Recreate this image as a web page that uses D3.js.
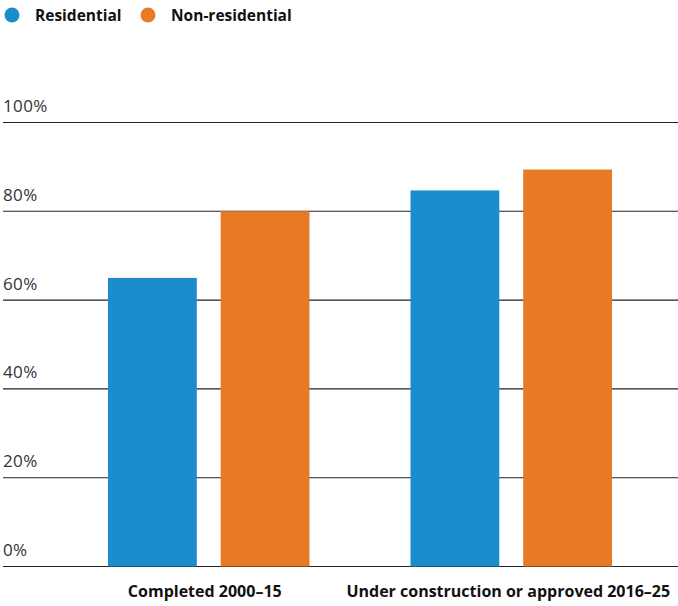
<!DOCTYPE html>
<html><head><meta charset="utf-8">
<script src="https://cdn.jsdelivr.net/npm/d3@7"></script>
<style>body{margin:0;background:#fff;}svg{display:block;font-family:"Open Sans",sans-serif;}</style>
</head><body>
<svg id="c" width="678" height="606"></svg>
<script>
const categories = ["Completed 2000\u201315", "Under construction or approved 2016\u201325"];
const seriesNames = ["Residential", "Non-residential"];
const residential = [65, 84.7];
const nonResidential = [80, 89.4];
const yTicks = [0, 20, 40, 60, 80, 100];
const colors = ["#1b8dcd", "#e87a26"];

const svg = d3.select("#c");
const y = d3.scaleLinear().domain([0, 100]).range([566.5, 122.5]);
const x0 = d3.scaleBand().domain(categories).range([57.25, 662.25]).padding(0);
const x1 = d3.scaleBand().domain(seriesNames).range([50.75, 252.25]).paddingInner(0.212).paddingOuter(0);

// gridlines
svg.append("g").selectAll("line").data(yTicks).join("line")
  .attr("x1", 3).attr("x2", 678)
  .attr("y1", d => y(d)).attr("y2", d => y(d))
  .attr("stroke", "#222").attr("stroke-width", 1.1);

svg.append("g").selectAll("text").data(yTicks).join("text")
  .attr("x", 3).attr("y", d => y(d) - 10.5)
  .attr("font-size", 17).attr("letter-spacing", 0.4).attr("fill", "#333")
  .text(d => d + "%");

// bars
const vals = [residential, nonResidential];
const g = svg.append("g");
categories.forEach((c, ci) => {
  seriesNames.forEach((s, si) => {
    g.append("rect")
      .attr("x", x0(c) + x1(s))
      .attr("width", x1.bandwidth())
      .attr("y", y(vals[si][ci]))
      .attr("height", y(0) - y(vals[si][ci]))
      .attr("fill", colors[si]);
  });
});

// category labels
svg.append("g").selectAll("text").data(categories).join("text")
  .attr("x", (d, i) => x0(d) + x1.range()[0] + (x1.range()[1] - x1.range()[0]) / 2 - 4 + i*1)
  .attr("y", 597).attr("text-anchor", "middle")
  .attr("font-size", 16).attr("font-weight", 700).attr("fill", "#111")
  .text(d => d);

// legend
const legX = [12, 148];
const leg = svg.append("g");
seriesNames.forEach((s, i) => {
  leg.append("circle").attr("cx", legX[i]).attr("cy", 15).attr("r", 7.5).attr("fill", colors[i]);
  leg.append("text").attr("x", legX[i] + 23).attr("y", 21)
    .attr("font-size", 15.5).attr("font-weight", 700).attr("fill", "#111").text(s);
});
</script>
</body></html>
